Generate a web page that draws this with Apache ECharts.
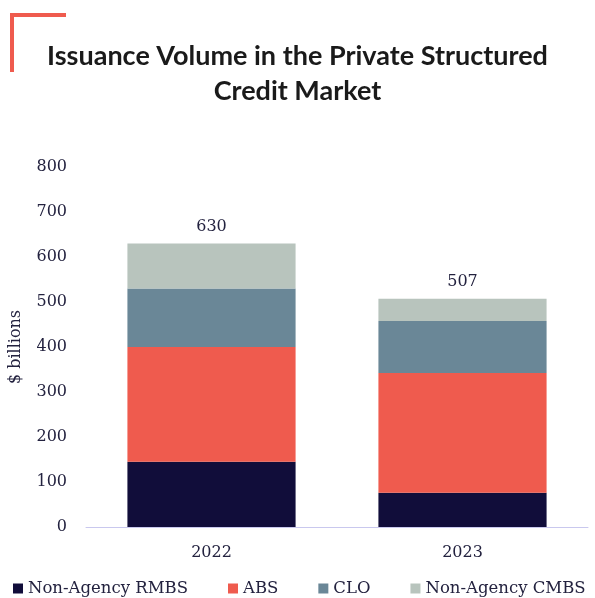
<!DOCTYPE html>
<html><head><meta charset="utf-8">
<script src="https://cdn.jsdelivr.net/npm/echarts@6/dist/echarts.min.js"></script>
<style>html,body{margin:0;padding:0;background:#fff}#c{width:595px;height:598px}</style>
</head><body><div id="c"></div>
<script>
const categories = ['2022', '2023'];
const rmbs = [145, 76];
const abs = [255, 266];
const clo = [130, 116];
const cmbs = [100, 49];
const totals = [630, 507];
const yTicks = [0, 100, 200, 300, 400, 500, 600, 700, 800];

const serif = "'DejaVu Serif', 'Liberation Serif', serif";
const txt = '#23223f';
const chart = echarts.init(document.getElementById('c'));
chart.setOption({
  animation: false,
  title: {
    text: 'Issuance Volume in the Private Structured\nCredit Market',
    left: 'center', top: 34,
    textStyle: { fontFamily: 'Lato, "Open Sans", sans-serif', fontWeight: 'bold', fontSize: 27, lineHeight: 35, color: '#1a1a1a' }
  },
  graphic: [
    { type: 'rect', shape: { x: 10, y: 13, width: 56, height: 4 }, style: { fill: '#ef5b4e' } },
    { type: 'rect', shape: { x: 10, y: 13, width: 4, height: 59 }, style: { fill: '#ef5b4e' } }
  ],
  legend: {
    top: 575, left: 8, width: 620, padding: [5, 0, 5, 5], itemWidth: 10, itemHeight: 10, itemGap: 40, icon: 'rect',
    textStyle: { fontFamily: serif, fontSize: 16.5, color: txt },
    data: ['Non-Agency RMBS', 'ABS', 'CLO', 'Non-Agency CMBS']
  },
  grid: { left: 85, right: 7, top: 167, bottom: 71 },
  xAxis: {
    type: 'category', data: categories,
    axisLine: { lineStyle: { color: '#c9c8ee' } }, axisTick: { show: false },
    axisLabel: { fontFamily: serif, fontSize: 16, color: txt, margin: 18 }
  },
  yAxis: {
    type: 'value', min: yTicks[0], max: yTicks[yTicks.length - 1], interval: 100,
    name: '$ billions', nameLocation: 'middle', nameGap: 62,
    nameTextStyle: { fontFamily: serif, fontSize: 16, color: txt },
    splitLine: { show: false },
    axisLabel: { fontFamily: serif, fontSize: 16, color: txt, margin: 19 }
  },
  series: [
    { name: 'Non-Agency RMBS', type: 'bar', stack: 't', data: rmbs, barWidth: '67%', itemStyle: { color: '#110d3a' } },
    { name: 'ABS', type: 'bar', stack: 't', data: abs, itemStyle: { color: '#ef5b4e' } },
    { name: 'CLO', type: 'bar', stack: 't', data: clo, itemStyle: { color: '#6a8797' } },
    { name: 'Non-Agency CMBS', type: 'bar', stack: 't', data: cmbs, itemStyle: { color: '#b8c4bd' },
      label: { show: true, position: 'top', distance: 9, fontFamily: serif, fontSize: 16, color: txt,
        formatter: p => String(totals[p.dataIndex]) } }
  ]
});
</script></body></html>
